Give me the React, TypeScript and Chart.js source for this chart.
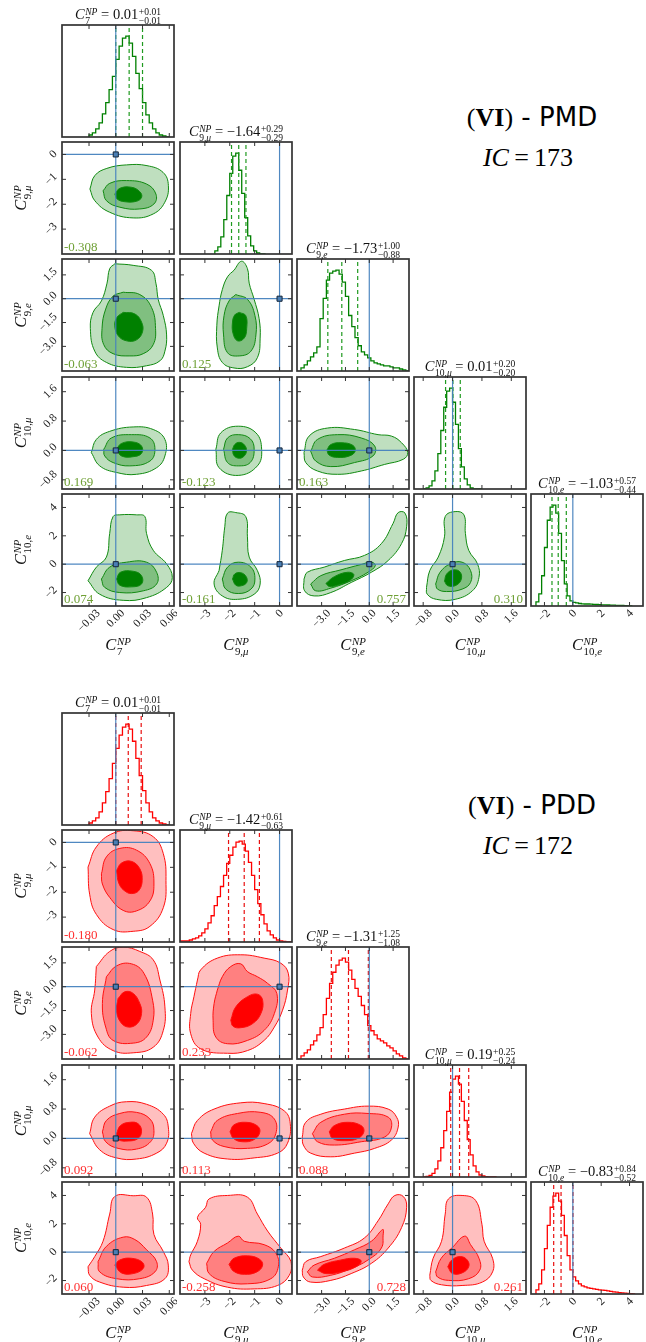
import React, { useEffect, useRef } from 'react';
import { Chart, registerables } from 'chart.js';

Chart.register(...registerables);

const SERIF = '"Liberation Serif", "DejaVu Serif", serif';
const SANS = '"DejaVu Sans", "Liberation Sans", sans-serif';

// ---------------- variables / axes ----------------
const VAR_SUB_NUM = ['7', '9', '9', '10', '10'];
const VAR_SUB_LET = ['', 'μ', 'e', 'μ', 'e'];
const VAR_MIN = [-0.0603, -4.0, -4.55, -1.05, -2.95];
const VAR_MAX = [0.0653, 0.5, 2.5, 2.0, 4.95];
const VAR_TICKS = [
  [-0.03, 0, 0.03, 0.06],
  [-3, -2, -1, 0],
  [-3, -1.5, 0, 1.5],
  [-0.8, 0, 0.8, 1.6],
  [-2, 0, 2, 4],
];
const VAR_TICK_LABELS = [
  ['−0.03', '0.00', '0.03', '0.06'],
  ['−3', '−2', '−1', '0'],
  ['−3.0', '−1.5', '0.0', '1.5'],
  ['−0.8', '0.0', '0.8', '1.6'],
  ['−2', '0', '2', '4'],
];
const SM_VALUES = [0, 0, 0, 0, 0];
const HIST_YMAX = 111;

// ---------------- PMD ----------------
const PMD_BIN_START = [-0.03, -2.6, -4.3, -0.8, -2.6];
const PMD_BIN_WIDTH = [0.00375, 0.12, 0.2, 0.08, 0.2];
const PMD_HIST_C7 = [1, 2, 4, 8, 14, 23, 34, 47, 60, 77, 90, 98, 100, 93, 80, 63, 48, 34, 22, 14, 8, 4, 2, 1];
const PMD_HIST_C9MU = [1, 3, 7, 17, 34, 58, 80, 97, 100, 83, 60, 36, 18, 8, 3, 1, 0];
const PMD_HIST_C9E = [1, 3, 6, 10, 14, 18, 24, 52, 72, 90, 97, 99, 100, 96, 88, 74, 55, 44, 33, 25, 19, 16, 13, 10, 8, 7, 6, 5, 5, 4, 3, 3, 2, 1];
const PMD_HIST_C10MU = [0, 0, 1, 3, 8, 18, 35, 58, 81, 97, 100, 86, 64, 40, 22, 10, 4, 1, 0, 0];
const PMD_HIST_C10E = [1, 4, 12, 30, 58, 85, 98, 100, 92, 72, 45, 22, 10, 5, 3.5, 3, 2.5, 2.2, 2, 2, 1.8, 1.6, 1.5, 1.4, 1.2, 1.1, 1, 0.9, 0.8, 0.7, 0.6, 0.5, 0.4, 0.2];
const PMD_QUANTILES = [[0.0, 0.015, 0.03], [-1.93, -1.64, -1.35], [-2.61, -1.73, -0.73], [-0.19, 0.01, 0.21], [-1.47, -1.03, -0.46]];
const PMD_TITLE_VAL = ['0.01', '−1.64', '−1.73', '0.01', '−1.03'];
const PMD_TITLE_PLUS = ['+0.01', '+0.29', '+1.00', '+0.20', '+0.57'];
const PMD_TITLE_MINUS = ['−0.01', '−0.29', '−0.88', '−0.20', '−0.44'];
const PMD_CORR = [[], ['-0.308'], ['-0.063', '0.125'], ['0.169', '-0.123', '0.163'], ['0.074', '-0.161', '0.757', '0.310']];

const PMD_C7_C9MU = [
  [[-0.029, -1.39], [-0.0235, -0.85], [-0.010, -0.56], [0.012, -0.42], [0.035, -0.45], [0.053, -0.72], [0.059, -1.25], [0.055, -1.92], [0.042, -2.39], [0.0195, -2.55], [-0.007, -2.32], [-0.0235, -1.86]],
  [[-0.0142, -1.46], [-0.0067, -1.16], [0.0121, -1.05], [0.0346, -1.19], [0.045, -1.59], [0.0428, -1.99], [0.027, -2.19], [0.0046, -2.12], [-0.0104, -1.86]],
  [[-0.001, -1.59], [0.0046, -1.36], [0.0177, -1.32], [0.027, -1.5], [0.029, -1.72], [0.0233, -1.88], [0.0102, -1.9], [0.0015, -1.79]],
];
const PMD_C7_C9E = [
  [[-0.001, 2.2], [0.0195, 2.1], [0.040, 1.79], [0.045, 0.98], [0.0476, -0.04], [0.0533, -1.06], [0.057, -2.28], [0.0551, -3.3], [0.0495, -3.91], [0.0345, -4.22], [0.012, -4.32], [-0.0105, -4.01], [-0.0236, -3.3], [-0.0285, -1.87], [-0.0255, -0.86], [-0.0161, -0.14], [-0.0098, 0.98], [-0.0068, 1.89]],
  [[0.0083, 0.41], [0.027, 0.26], [0.0401, -0.55], [0.0446, -1.87], [0.042, -2.89], [0.0308, -3.46], [0.0158, -3.6], [-0.003, -3.46], [-0.0135, -2.89], [-0.0154, -1.87], [-0.0113, -0.65], [-0.003, 0.16]],
  [[0.0083, -0.86], [0.0214, -0.96], [0.0289, -1.47], [0.03, -2.08], [0.0233, -2.59], [0.012, -2.65], [0.0026, -2.32], [-0.0011, -1.67], [0.0015, -1.16]],
];
const PMD_C9MU_C9E = [
  [[-1.83, 1.79], [-1.53, 2.36], [-1.29, 1.89], [-1.22, 0.98], [-1.02, -0.04], [-0.82, -1.26], [-0.78, -2.48], [-0.89, -3.71], [-1.29, -4.28], [-1.83, -4.36], [-2.3, -4.01], [-2.5, -3.1], [-2.52, -1.67], [-2.43, -0.45], [-2.3, 0.57], [-2.09, 1.38]],
  [[-1.76, 0.26], [-1.29, -0.04], [-0.99, -1.06], [-0.95, -2.28], [-1.15, -3.3], [-1.62, -3.6], [-2.09, -3.4], [-2.25, -2.28], [-2.23, -1.06], [-2.03, -0.14]],
  [[-1.62, -0.86], [-1.36, -1.06], [-1.32, -1.87], [-1.42, -2.48], [-1.69, -2.65], [-1.87, -2.18], [-1.89, -1.47], [-1.8, -1.02]],
];
const PMD_C7_C10MU = [
  [[-0.0274, -0.06], [-0.0218, 0.3], [-0.0068, 0.52], [0.0195, 0.64], [0.042, 0.57], [0.0551, 0.3], [0.0551, -0.15], [0.0458, -0.47], [0.0233, -0.65], [0.0008, -0.6], [-0.018, -0.42]],
  [[-0.0135, 0.03], [-0.0049, 0.34], [0.0176, 0.43], [0.0383, 0.34], [0.0439, 0.03], [0.0383, -0.29], [0.0158, -0.42], [-0.003, -0.33], [-0.0124, -0.15]],
  [[0.0008, 0.03], [0.0064, 0.19], [0.0195, 0.23], [0.0289, 0.12], [0.0289, -0.08], [0.0195, -0.17], [0.0064, -0.15]],
];
const PMD_C9MU_C10MU = [
  [[-2.56, 0.03], [-2.36, 0.48], [-1.66, 0.66], [-0.95, 0.48], [-0.72, 0.03], [-0.89, -0.42], [-1.66, -0.68], [-2.43, -0.47]],
  [[-2.25, 0.03], [-2.09, 0.34], [-1.66, 0.43], [-1.18, 0.32], [-1.02, 0.03], [-1.18, -0.33], [-1.66, -0.42], [-2.09, -0.33]],
  [[-1.89, 0.03], [-1.8, 0.16], [-1.61, 0.22], [-1.4, 0.14], [-1.33, -0.02], [-1.45, -0.17], [-1.66, -0.21], [-1.84, -0.13]],
];
const PMD_C9E_C10MU = [
  [[-4.11, -0.06], [-3.79, 0.39], [-2.63, 0.61], [-0.93, 0.57], [0.55, 0.43], [1.4, 0.39], [2.03, 0.21], [2.42, -0.06], [2.14, -0.24], [0.97, -0.38], [-0.51, -0.56], [-1.99, -0.65], [-3.26, -0.56], [-4.0, -0.33]],
  [[-3.69, -0.02], [-3.26, 0.3], [-1.99, 0.43], [-0.51, 0.34], [0.34, 0.12], [0.23, -0.15], [-0.93, -0.33], [-2.42, -0.44], [-3.37, -0.29]],
  [[-2.67, 0.01], [-2.42, 0.16], [-1.78, 0.21], [-1.04, 0.14], [-0.89, -0.02], [-1.25, -0.15], [-1.99, -0.19], [-2.52, -0.13]],
];
const PMD_C7_C10E = [
  [[-0.0311, -1.17], [-0.0218, -0.21], [-0.0105, 0.5], [-0.0068, 2.17], [-0.003, 3.36], [0.0045, 3.48], [0.0233, 3.48], [0.0326, 3.36], [0.0345, 2.17], [0.042, 0.98], [0.057, 0.02], [0.0634, -0.93], [0.057, -1.64], [0.0345, -2.36], [0.0083, -2.55], [-0.018, -2.12]],
  [[-0.0161, -1.05], [-0.0068, -0.21], [0.012, 0.14], [0.0345, 0.14], [0.0458, -0.57], [0.0458, -1.4], [0.0308, -1.88], [0.0045, -2.0], [-0.0124, -1.64]],
  [[0.0008, -1.05], [0.0053, -0.57], [0.0195, -0.5], [0.0289, -0.81], [0.0289, -1.4], [0.0176, -1.6], [0.0045, -1.48]],
];
const PMD_C9MU_C10E = [
  [[-2.43, -0.45], [-2.3, 0.98], [-2.2, 2.64], [-2.09, 3.6], [-1.76, 3.64], [-1.36, 3.36], [-1.29, 1.93], [-1.22, 0.5], [-0.89, -0.45], [-0.78, -1.4], [-1.02, -2.12], [-1.69, -2.48], [-2.3, -2.24], [-2.63, -1.4]],
  [[-2.3, -1.05], [-2.09, -0.21], [-1.66, 0.14], [-1.15, -0.21], [-0.99, -1.05], [-1.15, -1.76], [-1.66, -2.07], [-2.16, -1.76]],
  [[-1.89, -1.05], [-1.8, -0.69], [-1.56, -0.6], [-1.34, -0.88], [-1.32, -1.29], [-1.53, -1.52], [-1.76, -1.48]],
];
const PMD_C9E_C10E = [
  [[-4.11, -1.05], [-3.9, -0.57], [-2.84, -0.21], [-1.57, 0.26], [-0.3, 0.62], [0.76, 1.45], [1.5, 2.88], [1.82, 3.64], [2.25, 3.6], [2.35, 2.64], [2.03, 1.45], [1.19, 0.26], [0.13, -0.57], [-1.14, -1.29], [-2.42, -2.0], [-3.47, -2.24], [-4.07, -1.88]],
  [[-3.69, -1.4], [-3.05, -0.81], [-1.78, -0.4], [-0.51, -0.02], [0.13, 0.14], [0.38, -0.1], [-0.08, -0.57], [-1.14, -1.17], [-2.42, -1.69], [-3.37, -1.88]],
  [[-2.73, -1.36], [-2.2, -0.88], [-1.36, -0.57], [-0.97, -0.74], [-1.25, -1.17], [-1.99, -1.48], [-2.52, -1.57]],
];
const PMD_C10MU_C10E = [
  [[-0.71, -1.64], [-0.62, -0.45], [-0.39, 0.5], [-0.22, 1.93], [-0.2, 3.36], [0.07, 3.71], [0.31, 3.48], [0.35, 2.17], [0.44, 0.98], [0.68, 0.02], [0.72, -0.93], [0.54, -1.88], [0.07, -2.48], [-0.44, -2.48], [-0.69, -2.12]],
  [[-0.46, -1.4], [-0.34, -0.57], [-0.06, 0.02], [0.26, 0.14], [0.49, -0.45], [0.49, -1.29], [0.26, -1.76], [-0.16, -1.93], [-0.41, -1.76]],
  [[-0.22, -1.21], [-0.16, -0.69], [0.03, -0.4], [0.21, -0.57], [0.23, -1.12], [0.07, -1.52], [-0.13, -1.52]],
];

// ---------------- PDD ----------------
const PDD_BIN_START = [-0.03, -4.0, -4.3, -0.8, -2.6];
const PDD_BIN_WIDTH = [0.00375, 0.125, 0.2, 0.08, 0.2];
const PDD_HIST_C7 = [1, 2, 4, 7, 13, 22, 33, 46, 61, 76, 89, 97, 100, 95, 83, 66, 49, 34, 22, 13, 7, 4, 2, 1];
const PDD_HIST_C9MU = [1, 1, 1, 1, 2, 3, 4, 6, 9, 13, 19, 26, 36, 45, 55, 66, 78, 86, 94, 99, 100, 97, 90, 79, 66, 52, 38, 27, 18, 11, 7, 4, 2, 1, 0.5, 0.2];
const PDD_HIST_C9E = [1, 3, 6, 9, 14, 18, 24, 31, 44, 60, 75, 86, 93, 98, 100, 96, 88, 79, 70, 62, 53, 44, 33, 28, 24, 20, 18, 16, 13, 11, 8, 5, 3, 1];
const PDD_HIST_C10MU = [0, 0, 0.5, 1.5, 3.5, 8, 16, 29, 46, 65, 84, 97, 100, 92, 75, 56, 37, 22, 11, 5, 2, 1, 0.3, 0, 0];
const PDD_HIST_C10E = [1, 4, 10, 24, 45, 68, 86, 97, 100, 92, 78, 58, 38, 24, 17, 13, 10, 8, 7, 6, 5.5, 5, 4.5, 4, 3.8, 3.5, 3, 2.6, 2.2, 1.8, 1.4, 1.1, 0.8, 0.5, 0.3];
const PDD_QUANTILES = [[0.0, 0.014, 0.0285], [-2.05, -1.42, -0.81], [-2.39, -1.31, -0.06], [-0.05, 0.19, 0.44], [-1.35, -0.83, 0.01]];
const PDD_TITLE_VAL = ['0.01', '−1.42', '−1.31', '0.19', '−0.83'];
const PDD_TITLE_PLUS = ['+0.01', '+0.61', '+1.25', '+0.25', '+0.84'];
const PDD_TITLE_MINUS = ['−0.01', '−0.63', '−1.08', '−0.24', '−0.52'];
const PDD_CORR = [[], ['-0.180'], ['-0.062', '0.233'], ['0.092', '0.113', '0.088'], ['0.060', '-0.258', '0.728', '0.261']];

const PDD_C7_C9MU = [
  [[-0.0311, -0.99], [-0.0218, -0.18], [-0.003, 0.37], [0.0195, 0.47], [0.042, 0.23], [0.0533, -0.45], [0.0563, -1.53], [0.0533, -2.62], [0.0383, -3.37], [0.0195, -3.57], [-0.003, -3.5], [-0.0218, -2.89], [-0.0293, -2.08]],
  [[-0.0161, -1.26], [-0.0105, -0.58], [0.0045, -0.24], [0.0233, -0.31], [0.0383, -0.85], [0.0428, -1.67], [0.0383, -2.35], [0.0233, -2.75], [0.0083, -2.73], [-0.0068, -2.21], [-0.015, -1.67]],
  [[0.0008, -1.13], [0.0064, -0.83], [0.0176, -0.76], [0.027, -1.06], [0.0296, -1.53], [0.0263, -1.91], [0.0195, -2.05], [0.0113, -1.98], [0.0038, -1.67]],
];
const PDD_C7_C9E = [
  [[-0.0218, 1.27], [-0.0068, 2.22], [0.0083, 2.49], [0.027, 2.22], [0.042, 1.69], [0.0495, 0.42], [0.0551, -1.27], [0.0533, -2.75], [0.042, -3.81], [0.0195, -4.16], [-0.003, -4.02], [-0.0199, -3.17], [-0.0274, -1.69], [-0.0236, -0.21]],
  [[-0.0105, 0.63], [0.0008, 1.31], [0.0176, 1.44], [0.0315, 0.85], [0.0413, -0.85], [0.042, -2.11], [0.0345, -3.17], [0.0195, -3.55], [-0.003, -3.38], [-0.0113, -2.54], [-0.015, -1.06]],
  [[0.0026, -0.74], [0.0101, -0.32], [0.0195, -0.42], [0.027, -1.06], [0.0289, -1.69], [0.024, -2.33], [0.0139, -2.54], [0.0053, -2.22], [0.0008, -1.48]],
];
const PDD_C9MU_C9E = [
  [[-3.3, 0.42], [-3.17, 1.06], [-2.5, 1.8], [-1.56, 2.01], [-0.62, 1.8], [0.05, 1.48], [0.35, 0.85], [0.32, -0.21], [0.12, -1.48], [-0.21, -2.54], [-0.62, -3.38], [-1.29, -4.02], [-2.09, -4.19], [-3.17, -3.91], [-3.57, -2.96], [-3.57, -1.69], [-3.44, -0.63]],
  [[-2.5, -0.21], [-2.3, 0.63], [-1.96, 1.27], [-1.56, 1.44], [-1.29, 0.95], [-0.89, 0.63], [-0.48, 0.21], [-0.11, -0.42], [-0.21, -1.69], [-0.62, -2.75], [-1.29, -3.38], [-2.09, -3.59], [-2.56, -3.17], [-2.67, -2.11], [-2.63, -1.06]],
  [[-1.96, -2.11], [-1.76, -1.27], [-1.29, -0.63], [-0.89, -0.47], [-0.68, -0.85], [-0.75, -1.69], [-1.09, -2.33], [-1.56, -2.58], [-1.87, -2.49]],
];
const PDD_C7_C10MU = [
  [[-0.0293, 0.13], [-0.0236, 0.58], [-0.0068, 0.88], [0.012, 1.0], [0.0345, 0.93], [0.0533, 0.66], [0.0589, 0.31], [0.057, -0.13], [0.0458, -0.4], [0.0233, -0.56], [0.0008, -0.53], [-0.018, -0.31]],
  [[-0.015, 0.18], [-0.0105, 0.49], [0.0045, 0.68], [0.0233, 0.71], [0.0383, 0.53], [0.0428, 0.22], [0.039, -0.09], [0.0233, -0.29], [0.0026, -0.27], [-0.0113, -0.09]],
  [[0.0008, 0.13], [0.0053, 0.35], [0.0158, 0.44], [0.0251, 0.4], [0.0289, 0.2], [0.0251, 0.0], [0.0139, -0.07], [0.0026, -0.03]],
];
const PDD_C9MU_C10MU = [
  [[-3.54, 0.13], [-3.3, 0.49], [-2.63, 0.8], [-1.56, 0.97], [-0.62, 0.95], [0.19, 0.75], [0.43, 0.4], [0.32, -0.13], [-0.08, -0.4], [-1.02, -0.53], [-2.09, -0.56], [-3.03, -0.4], [-3.46, -0.13]],
  [[-2.77, 0.18], [-2.5, 0.49], [-1.69, 0.68], [-0.75, 0.71], [-0.21, 0.53], [-0.15, 0.13], [-0.48, -0.15], [-1.29, -0.27], [-2.23, -0.22], [-2.7, -0.04]],
  [[-1.99, 0.18], [-1.83, 0.37], [-1.36, 0.44], [-0.91, 0.35], [-0.79, 0.18], [-1.02, -0.03], [-1.49, -0.09], [-1.85, 0.0]],
];
const PDD_C9E_C10MU = [
  [[-4.22, 0.04], [-4.0, 0.44], [-3.05, 0.66], [-1.57, 0.8], [-0.08, 0.88], [1.19, 0.8], [1.72, 0.58], [1.82, 0.31], [1.4, -0.04], [0.34, -0.27], [-0.93, -0.4], [-2.42, -0.5], [-3.69, -0.4], [-4.15, -0.18]],
  [[-3.58, 0.13], [-3.05, 0.44], [-1.57, 0.66], [-0.08, 0.68], [1.19, 0.58], [1.4, 0.31], [0.97, 0.04], [-0.51, -0.09], [-2.2, -0.18], [-3.26, -0.09]],
  [[-2.52, 0.18], [-2.2, 0.35], [-1.36, 0.44], [-0.51, 0.35], [-0.34, 0.18], [-0.72, 0.0], [-1.57, -0.06], [-2.31, 0.0]],
];
const PDD_C7_C10E = [
  [[-0.0311, -1.03], [-0.0236, -0.31], [-0.0143, 0.77], [-0.0068, 2.69], [-0.0011, 3.93], [0.0195, 3.98], [0.0345, 3.88], [0.0413, 2.69], [0.0428, 1.25], [0.0533, 0.05], [0.0589, -0.91], [0.0551, -1.87], [0.0345, -2.35], [0.0083, -2.47], [-0.018, -2.11], [-0.0293, -1.63]],
  [[-0.0199, -0.67], [-0.0105, 0.41], [0.0083, 1.06], [0.0214, 0.89], [0.0345, 0.17], [0.0458, -0.67], [0.0439, -1.39], [0.027, -1.87], [0.0008, -1.87], [-0.018, -1.39]],
  [[-0.0011, -0.91], [0.0045, -0.55], [0.0176, -0.43], [0.03, -0.72], [0.0308, -1.15], [0.0195, -1.51], [0.0064, -1.46]],
];
const PDD_C9MU_C10E = [
  [[-3.64, -0.67], [-3.57, -0.19], [-3.3, 0.77], [-3.17, 1.97], [-3.3, 2.45], [-2.97, 3.17], [-2.83, 3.76], [-2.09, 4.0], [-1.29, 3.88], [-0.89, 2.69], [-0.48, 1.49], [0.05, 0.29], [0.46, -0.67], [0.39, -1.63], [-0.08, -2.35], [-1.02, -2.59], [-2.09, -2.47], [-3.03, -1.87], [-3.5, -1.27]],
  [[-2.93, -0.79], [-2.63, 0.05], [-2.09, 0.65], [-1.66, 1.13], [-1.42, 0.77], [-0.62, 0.53], [-0.15, -0.07], [-0.05, -1.03], [-0.35, -1.87], [-1.29, -2.23], [-2.23, -2.06], [-2.83, -1.51]],
  [[-2.03, -0.86], [-1.83, -0.43], [-1.29, -0.26], [-0.82, -0.48], [-0.68, -0.91], [-0.91, -1.39], [-1.42, -1.56], [-1.85, -1.34]],
];
const PDD_C9E_C10E = [
  [[-4.22, -1.27], [-4.0, -0.67], [-3.05, -0.31], [-1.57, 0.29], [-0.3, 1.01], [0.55, 2.21], [1.19, 3.41], [1.61, 4.0], [2.14, 3.93], [2.35, 3.17], [2.03, 1.73], [1.19, 0.29], [0.13, -0.79], [-1.14, -1.51], [-2.42, -1.99], [-3.69, -2.11], [-4.15, -1.75]],
  [[-3.9, -1.39], [-3.47, -0.91], [-2.2, -0.43], [-0.93, 0.17], [0.13, 0.77], [0.85, 1.6], [0.87, 1.2], [0.76, 0.29], [-0.08, -0.55], [-1.14, -1.15], [-2.42, -1.63], [-3.58, -1.75]],
  [[-3.26, -1.27], [-2.84, -0.86], [-1.78, -0.55], [-0.93, -0.43], [-0.51, -0.62], [-0.83, -1.03], [-1.78, -1.39], [-2.73, -1.51]],
];
const PDD_C10MU_C10E = [
  [[-0.62, -1.63], [-0.53, -0.43], [-0.3, 0.77], [-0.2, 2.69], [-0.11, 3.76], [0.26, 4.0], [0.63, 3.64], [0.8, 1.97], [0.86, 0.77], [1.09, -0.43], [1.09, -1.39], [0.81, -2.11], [0.26, -2.35], [-0.3, -2.3], [-0.59, -1.99]],
  [[-0.46, -1.39], [-0.31, -0.43], [-0.02, 0.29], [0.33, 1.13], [0.49, 0.53], [0.72, -0.43], [0.74, -1.27], [0.44, -1.87], [-0.11, -1.99], [-0.41, -1.75]],
  [[-0.13, -1.03], [-0.02, -0.55], [0.21, -0.31], [0.4, -0.55], [0.44, -1.03], [0.26, -1.46], [0.0, -1.51]],
];

// ---------------- styles & layout ----------------
const BLUE = 'rgba(70,130,190,0.95)';
const FRAME = '#333333';
const COL0_LEFT = 62.3;
const PANEL_STEP = 117.2;
const PANEL_SIZE = 112;

const MODELS = [
  {
    name: 'PMD', ic: '173', top: 25,
    fills: ['#bfdfbf', '#80bf80', '#008000'], edge: '#118a11', line: '#008000', dash: '#1f9a1f', corrColor: '#6fa035',
    binStart: PMD_BIN_START, binWidth: PMD_BIN_WIDTH,
    hists: [PMD_HIST_C7, PMD_HIST_C9MU, PMD_HIST_C9E, PMD_HIST_C10MU, PMD_HIST_C10E],
    quant: PMD_QUANTILES, tVal: PMD_TITLE_VAL, tPlus: PMD_TITLE_PLUS, tMinus: PMD_TITLE_MINUS, corr: PMD_CORR,
    contours: [[], [PMD_C7_C9MU], [PMD_C7_C9E, PMD_C9MU_C9E], [PMD_C7_C10MU, PMD_C9MU_C10MU, PMD_C9E_C10MU], [PMD_C7_C10E, PMD_C9MU_C10E, PMD_C9E_C10E, PMD_C10MU_C10E]],
  },
  {
    name: 'PDD', ic: '172', top: 713,
    fills: ['#ffbfbf', '#ff8080', '#ff0000'], edge: '#ff1010', line: '#ff0000', dash: '#e81010', corrColor: '#ff3030',
    binStart: PDD_BIN_START, binWidth: PDD_BIN_WIDTH,
    hists: [PDD_HIST_C7, PDD_HIST_C9MU, PDD_HIST_C9E, PDD_HIST_C10MU, PDD_HIST_C10E],
    quant: PDD_QUANTILES, tVal: PDD_TITLE_VAL, tPlus: PDD_TITLE_PLUS, tMinus: PDD_TITLE_MINUS, corr: PDD_CORR,
    contours: [[], [PDD_C7_C9MU], [PDD_C7_C9E, PDD_C9MU_C9E], [PDD_C7_C10MU, PDD_C9MU_C10MU, PDD_C9E_C10MU], [PDD_C7_C10E, PDD_C9MU_C10E, PDD_C9E_C10E, PDD_C10MU_C10E]],
  },
];

function panelLeft(c: number) { return Math.round(COL0_LEFT + PANEL_STEP * c); }
function panelTop(model: any, r: number) { return Math.round(model.top + PANEL_STEP * r); }

function buildConfig(model: any, r: number, c: number, pad: any) {
  const isDiag = r === c;
  const datasets: any[] = [];
  const xmin = VAR_MIN[c], xmax = VAR_MAX[c];
  let ymin = 0, ymax = HIST_YMAX;
  if (isDiag) {
    const h: number[] = model.hists[c];
    const s = model.binStart[c], w = model.binWidth[c];
    const pts: any[] = [{ x: s, y: 0 }];
    h.forEach((v, i) => pts.push({ x: s + i * w, y: v }));
    pts.push({ x: s + h.length * w, y: 0 });
    datasets.push({ data: pts, stepped: 'after', borderColor: model.line, borderWidth: 1.3, pointRadius: 0, fill: false, order: 6 });
    model.quant[c].forEach((q: number) => datasets.push({
      data: [{ x: q, y: 0 }, { x: q, y: ymax }], borderColor: model.dash, borderWidth: 1.2, borderDash: [4, 3], pointRadius: 0, fill: false, order: 5,
    }));
    datasets.push({ data: [{ x: SM_VALUES[c], y: 0 }, { x: SM_VALUES[c], y: ymax }], borderColor: BLUE, borderWidth: 1.2, pointRadius: 0, fill: false, order: 4 });
  } else {
    ymin = VAR_MIN[r]; ymax = VAR_MAX[r];
    const levels = model.contours[r][c];
    levels.forEach((poly: number[][], k: number) => {
      const pts = poly.map(([x, y]) => ({ x, y }));
      pts.push({ x: poly[0][0], y: poly[0][1] });
      datasets.push({
        data: pts, fill: 'shape', backgroundColor: model.fills[k], borderColor: model.edge, borderWidth: 1,
        tension: 0.42, pointRadius: 0, order: 20 - k,
      });
    });
    datasets.push({ data: [{ x: SM_VALUES[c], y: ymin }, { x: SM_VALUES[c], y: ymax }], borderColor: BLUE, borderWidth: 1.2, pointRadius: 0, fill: false, order: 4 });
    datasets.push({ data: [{ x: xmin, y: SM_VALUES[r] }, { x: xmax, y: SM_VALUES[r] }], borderColor: BLUE, borderWidth: 1.2, pointRadius: 0, fill: false, order: 3 });
    datasets.push({
      data: [{ x: SM_VALUES[c], y: SM_VALUES[r] }], showLine: false, pointStyle: 'rect', pointRadius: 3.6,
      pointBackgroundColor: '#4a7fb5', pointBorderColor: '#15263a', pointBorderWidth: 1, clip: false, order: 1,
    });
  }

  const corrText = !isDiag ? model.corr[r][c] : null;
  const corrRight = r === 4 && (c === 2 || c === 3);

  const deco = {
    id: 'panelDeco' + r + c,
    afterDatasetsDraw(chart: any) {
      const { ctx, chartArea: a, scales } = chart;
      const xs = scales.x, ys = scales.y;
      ctx.save();
      ctx.strokeStyle = FRAME;
      ctx.lineWidth = 1;
      const seg = (x1: number, y1: number, x2: number, y2: number) => { ctx.beginPath(); ctx.moveTo(x1, y1); ctx.lineTo(x2, y2); ctx.stroke(); };
      VAR_TICKS[c].forEach((t) => {
        const x = xs.getPixelForValue(t);
        if (x < a.left || x > a.right) return;
        seg(x, a.bottom, x, a.bottom - 4);
        seg(x, a.top, x, a.top + 4);
      });
      if (!isDiag) {
        VAR_TICKS[r].forEach((t) => {
          const y = ys.getPixelForValue(t);
          if (y < a.top || y > a.bottom) return;
          seg(a.left, y, a.left + 4, y);
          seg(a.right, y, a.right - 4, y);
        });
      }
      ctx.lineWidth = 1.7;
      ctx.strokeRect(a.left, a.top, a.right - a.left, a.bottom - a.top);

      ctx.fillStyle = '#1a1a1a';
      ctx.font = `11.5px ${SERIF}`;
      ctx.textAlign = 'center';
      ctx.textBaseline = 'middle';
      const k = Math.SQRT1_2;
      if (r === 4) {
        VAR_TICKS[c].forEach((t, i) => {
          const lab = VAR_TICK_LABELS[c][i];
          const w = ctx.measureText(lab).width;
          const bb = (w + 7) * k;
          const x = xs.getPixelForValue(t);
          ctx.save();
          ctx.translate(x, a.bottom + 3 + bb / 2);
          ctx.rotate(-Math.PI / 4);
          ctx.fillText(lab, 0, 0);
          ctx.restore();
        });
      }
      if (c === 0 && r > 0) {
        VAR_TICKS[r].forEach((t, i) => {
          const lab = VAR_TICK_LABELS[r][i];
          const w = ctx.measureText(lab).width;
          const bb = (w + 7) * k;
          const y = ys.getPixelForValue(t);
          ctx.save();
          ctx.translate(a.left - 4 - bb / 2, y);
          ctx.rotate(-Math.PI / 4);
          ctx.fillText(lab, 0, 0);
          ctx.restore();
        });
      }
      if (corrText) {
        ctx.font = `13px ${SERIF}`;
        ctx.fillStyle = model.corrColor;
        ctx.textBaseline = 'alphabetic';
        if (corrRight) {
          ctx.textAlign = 'right';
          ctx.fillText(corrText, a.right - 3, a.bottom - 3);
        } else {
          ctx.textAlign = 'left';
          ctx.fillText(corrText, a.left + 2, a.bottom - 3);
        }
      }
      ctx.restore();
    },
  };

  return {
    type: 'line',
    data: { datasets },
    options: {
      animation: false,
      responsive: false,
      devicePixelRatio: 1,
      events: [],
      layout: { padding: { left: pad.l, right: pad.r, top: pad.t, bottom: pad.b }, autoPadding: false },
      plugins: { legend: { display: false }, tooltip: { enabled: false }, title: { display: false } },
      scales: {
        x: { type: 'linear', min: xmin, max: xmax, display: false },
        y: { type: 'linear', min: ymin, max: ymax, display: false },
      },
      elements: { point: { radius: 0 } },
    },
    plugins: [deco],
  } as any;
}

function PanelCanvas({ model, r, c }: any) {
  const ref = useRef<HTMLCanvasElement | null>(null);
  const L = panelLeft(c);
  const T = panelTop(model, r);
  const pad = { l: c === 0 ? 46 : 3, r: 3, t: 3, b: r === 4 ? 44 : 3 };
  const cw = PANEL_SIZE + pad.l + pad.r;
  const ch = PANEL_SIZE + pad.t + pad.b;
  useEffect(() => {
    const chart = new Chart(ref.current as HTMLCanvasElement, buildConfig(model, r, c, pad));
    return () => chart.destroy();
  }, []);
  return (
    <canvas ref={ref} width={cw} height={ch}
      style={{ position: 'absolute', left: L - pad.l, top: T - pad.t, width: cw, height: ch }} />
  );
}

function Stack({ sup, sub, italicSup }: any) {
  return (
    <span style={{ display: 'inline-flex', flexDirection: 'column', fontSize: '0.66em', lineHeight: 0.95, verticalAlign: 'middle', marginLeft: '0.06em', textAlign: 'left' }}>
      <span style={{ fontStyle: italicSup ? 'italic' : 'normal' }}>{sup}</span>
      <span>{sub}</span>
    </span>
  );
}

function VarSym({ i }: any) {
  const sub = (
    <span>{VAR_SUB_NUM[i]}{VAR_SUB_LET[i] ? <>,<i>{VAR_SUB_LET[i]}</i></> : null}</span>
  );
  return (
    <span style={{ whiteSpace: 'nowrap' }}>
      <i>C</i><Stack sup="NP" sub={sub} italicSup />
    </span>
  );
}

function Corner({ model }: any) {
  const items: any[] = [];
  for (let r = 0; r < 5; r++) {
    for (let c = 0; c <= r; c++) {
      items.push(<PanelCanvas key={`p${r}${c}`} model={model} r={r} c={c} />);
    }
  }
  for (let i = 0; i < 5; i++) {
    const L = panelLeft(i), T = panelTop(model, i);
    items.push(
      <div key={`t${i}`} style={{ position: 'absolute', left: L + PANEL_SIZE / 2, top: T, transform: 'translate(-50%,-100%)', fontFamily: SERIF, fontSize: 14.5, lineHeight: 1, whiteSpace: 'nowrap', color: '#111' }}>
        <VarSym i={i} />{' = '}{model.tVal[i]}<Stack sup={model.tPlus[i]} sub={model.tMinus[i]} />
      </div>
    );
    items.push(
      <div key={`x${i}`} style={{ position: 'absolute', left: L + PANEL_SIZE / 2, top: panelTop(model, 4) + PANEL_SIZE + 40, transform: 'translate(-50%,-50%)', fontFamily: SERIF, fontSize: 16.5, lineHeight: 1, whiteSpace: 'nowrap', color: '#111' }}>
        <VarSym i={i} />
      </div>
    );
    if (i > 0) {
      items.push(
        <div key={`y${i}`} style={{ position: 'absolute', left: 22, top: T + PANEL_SIZE / 2, transform: 'translate(-50%,-50%) rotate(-90deg)', fontFamily: SERIF, fontSize: 16.5, lineHeight: 1, whiteSpace: 'nowrap', color: '#111' }}>
          <VarSym i={i} />
        </div>
      );
    }
  }
  items.push(
    <div key="name" style={{ position: 'absolute', left: 532, top: model.top + 92, transform: 'translate(-50%,-50%)', fontSize: 26, lineHeight: 1, whiteSpace: 'nowrap', color: '#000' }}>
      <span style={{ fontFamily: SERIF }}>(</span>
      <span style={{ fontFamily: SERIF, fontWeight: 'bold' }}>VI</span>
      <span style={{ fontFamily: SERIF }}>)</span>
      <span style={{ fontFamily: SANS }}> - {model.name}</span>
    </div>
  );
  items.push(
    <div key="ic" style={{ position: 'absolute', left: 528, top: model.top + 133, transform: 'translate(-50%,-50%)', fontFamily: SERIF, fontSize: 26, lineHeight: 1, whiteSpace: 'nowrap', color: '#000' }}>
      <i>IC</i>{'\u2009=\u2009'}{model.ic}
    </div>
  );
  return <>{items}</>;
}

export default function App() {
  return (
    <div style={{ position: 'absolute', left: 0, top: 0, width: 646, height: 1342, background: '#ffffff', overflow: 'hidden' }}>
      {MODELS.map((m) => <Corner key={m.name} model={m} />)}
    </div>
  );
}
